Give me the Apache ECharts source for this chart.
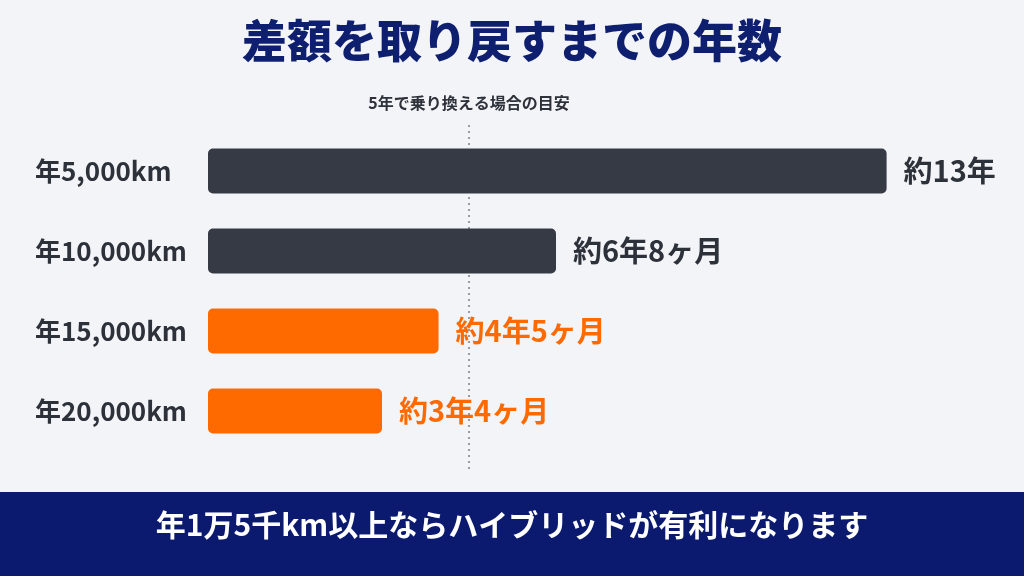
<!DOCTYPE html>
<html><head><meta charset="utf-8">
<script src="https://cdn.jsdelivr.net/npm/echarts@6/dist/echarts.min.js"></script>
<style>html,body{margin:0;padding:0;background:#f3f4f7;}#c{width:1024px;height:576px;}</style>
</head><body><div id="c"></div>
<script>
const categories = ['年5,000km', '年10,000km', '年15,000km', '年20,000km'];
const monthsToRecover = [156, 80, 53, 40];
const valueLabels = ['約13年', '約6年8ヶ月', '約4年5ヶ月', '約3年4ヶ月'];
const highlight = [false, false, true, true];
const guideMonths = 60;
const guideLabel = '5年で乗り換える場合の目安';
const titleText = '差額を取り戻すまでの年数';
const bannerText = '年1万5千km以上ならハイブリッドが有利になります';

const FONT = '"Noto Sans CJK JP", "Noto Sans", sans-serif';
const DARK = '#363a44';
const ORANGE = '#ff6a00';
const NAVY = '#0b1a6e';

const chart = echarts.init(document.getElementById('c'), null, {renderer: 'canvas'});
chart.setOption({
  backgroundColor: '#f3f4f7',
  animation: false,
  title: {
    text: titleText, left: 'center', top: 13,
    textStyle: {fontFamily: FONT, fontSize: 45, fontWeight: 900, color: '#0f1f70'}
  },
  grid: {left: 208, width: 783, top: 131, height: 320},
  xAxis: {type: 'value', min: 0, max: 180, show: false},
  yAxis: {
    type: 'category', data: categories, inverse: true,
    axisLine: {show: false}, axisTick: {show: false},
    axisLabel: {
      align: 'left', margin: 173,
      fontFamily: FONT, fontSize: 26, fontWeight: 'bold', color: '#2d313a'
    }
  },
  series: [{
    type: 'bar', barWidth: 45, z: 3,
    data: monthsToRecover.map((v, i) => ({
      value: v,
      itemStyle: {color: highlight[i] ? ORANGE : DARK, borderRadius: 5},
      label: {color: highlight[i] ? ORANGE : '#2d313a'}
    })),
    label: {
      show: true, position: 'right', distance: 17,
      fontFamily: FONT, fontSize: 29, fontWeight: 'bold',
      backgroundColor: 'transparent',
      formatter: p => valueLabels[p.dataIndex]
    }
  }]
});

const gx = chart.convertToPixel({xAxisIndex: 0}, guideMonths);
chart.setOption({
  graphic: [
    {type: 'line', shape: {x1: gx, y1: 125, x2: gx, y2: 470},
     style: {stroke: '#7a7e88', lineWidth: 1.5, lineDash: [2, 4]}, z: 0},
    {type: 'text', x: gx, y: 103, z: 5,
     style: {text: guideLabel, fill: '#2d313a', font: 'bold 16px ' + FONT, align: 'center', verticalAlign: 'middle'}},
    {type: 'rect', left: 0, top: 492, shape: {width: 1024, height: 84}, style: {fill: NAVY}, z: 10},
    {type: 'text', left: 'center', top: 510, z: 11,
     style: {text: bannerText, fill: '#ffffff', font: 'bold 30px ' + FONT}}
  ]
});
</script></body></html>
